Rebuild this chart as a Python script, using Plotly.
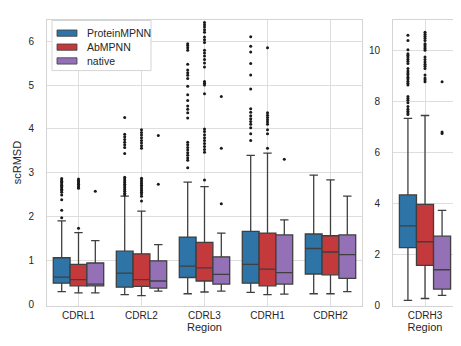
import plotly.graph_objects as go

# ---------------- data ----------------
regions_left = ["CDRL1", "CDRL2", "CDRL3", "CDRH1", "CDRH2"]
regions_right = ["CDRH3"]
series_names = ["ProteinMPNN", "AbMPNN", "native"]
series_colors = ["#2f74a6", "#c4393b", "#9470b6"]

# box statistics, left panel (CDRL1..CDRH2)
pm_q1 = [0.49, 0.40, 0.62, 0.49, 0.70]
pm_med = [0.63, 0.72, 0.88, 0.92, 1.28]
pm_q3 = [1.07, 1.22, 1.54, 1.67, 1.61]
pm_lo = [0.30, 0.23, 0.25, 0.28, 0.25]
pm_hi = [1.91, 2.47, 2.79, 3.40, 2.95]

ab_q1 = [0.43, 0.42, 0.54, 0.43, 0.68]
ab_med = [0.57, 0.57, 0.84, 0.81, 1.20]
ab_q3 = [0.92, 1.16, 1.42, 1.63, 1.57]
ab_lo = [0.27, 0.21, 0.29, 0.23, 0.25]
ab_hi = [1.64, 2.13, 2.69, 3.45, 2.84]

nat_q1 = [0.43, 0.38, 0.47, 0.47, 0.60]
nat_med = [0.47, 0.54, 0.69, 0.73, 1.14]
nat_q3 = [0.95, 1.00, 1.09, 1.59, 1.59]
nat_lo = [0.27, 0.31, 0.31, 0.24, 0.30]
nat_hi = [1.46, 1.37, 1.63, 1.93, 2.47]

# box statistics, right panel (CDRH3): ProteinMPNN, AbMPNN, native
h3_q1 = [2.26, 1.56, 0.63]
h3_med = [3.11, 2.49, 1.39]
h3_q3 = [4.33, 3.96, 2.71]
h3_lo = [0.19, 0.26, 0.38]
h3_hi = [7.34, 7.45, 3.72]

# outliers
pm_outliers = {
    "CDRL1": [1.98, 2.15, 2.39, 2.50, 2.56, 2.60, 2.63, 2.66, 2.69, 2.72, 2.75, 2.78, 2.81, 2.84, 2.87],
    "CDRL2": [2.50, 2.54, 2.58, 2.62, 2.66, 2.70, 2.74, 2.78, 2.82, 2.86, 2.90,
              3.44, 3.58, 3.64, 3.70, 3.76, 3.82, 3.88, 4.26],
    "CDRL3": [3.12, 3.29, 3.34, 3.40, 3.46, 3.52, 3.58, 3.64, 3.70, 4.25, 4.37, 4.45, 4.52,
              4.65, 4.78, 4.97, 5.15, 5.22, 5.28, 5.34, 5.47, 5.79, 5.85, 5.90, 5.94],
    "CDRH1": [3.74, 3.89, 4.03, 4.11, 4.17, 4.23, 4.30, 4.38, 4.46, 4.91, 5.23, 5.49, 5.75, 5.88, 6.10],
    "CDRH2": [],
    "CDRH3": [7.49, 7.55, 7.62, 7.70, 7.80, 7.95, 8.05, 8.12, 8.20, 8.65, 8.72, 8.80, 8.88, 8.95,
              9.05, 9.12, 9.20, 9.30, 9.49, 9.58, 9.66, 9.75, 9.82, 9.88, 10.03, 10.40, 10.60],
}
ab_outliers = {
    "CDRL1": [1.74, 2.65, 2.68, 2.71, 2.74, 2.77, 2.80, 2.83, 2.86],
    "CDRL2": [2.36, 2.47, 2.52, 2.56, 2.60, 2.64, 2.68, 2.72, 2.76, 2.80, 2.84, 2.88,
              3.56, 3.62, 3.68, 3.74, 3.80, 3.86, 3.92, 3.98],
    "CDRL3": [2.84, 3.47, 3.53, 3.60, 3.67, 3.74, 3.80, 3.87, 3.94, 4.00, 4.80, 5.00, 5.04, 5.08,
              5.41, 5.50, 5.58, 5.66, 5.73, 5.79, 5.97, 6.03, 6.09, 6.20, 6.26, 6.32, 6.37, 6.42],
    "CDRH1": [3.56, 3.89, 3.98, 4.11, 4.16, 4.21, 4.26, 4.31, 4.37, 5.85],
    "CDRH2": [],
    "CDRH3": [8.78, 8.85, 8.92, 9.04, 9.30, 9.38, 9.46, 9.55, 9.65, 9.75, 10.01, 10.08, 10.15,
              10.22, 10.27, 10.40, 10.48, 10.56, 10.64, 10.72],
}
nat_outliers = {
    "CDRL1": [2.58],
    "CDRL2": [2.74, 3.85],
    "CDRL3": [2.30, 3.56, 4.74],
    "CDRH1": [3.31],
    "CDRH2": [],
    "CDRH3": [6.74, 6.80, 8.78],
}

left_ticks = [0, 1, 2, 3, 4, 5, 6]
right_ticks = [0, 2, 4, 6, 8, 10]

# ---------------- figure ----------------
W, H = 461, 346
FONT = "Liberation Sans, Arial, sans-serif"
TXT = "#262626"
EDGE = "#3f3f3f"
GRID = "#dedede"
FRAME = "#d4d4d4"

left_stats = [
    (pm_q1, pm_med, pm_q3, pm_lo, pm_hi),
    (ab_q1, ab_med, ab_q3, ab_lo, ab_hi),
    (nat_q1, nat_med, nat_q3, nat_lo, nat_hi),
]
outlier_sets = [pm_outliers, ab_outliers, nat_outliers]

fig = go.Figure()

for i, name in enumerate(series_names):
    q1, med, q3, lo, hi = left_stats[i]
    fig.add_trace(go.Box(
        name=name, x=regions_left, q1=q1, median=med, q3=q3,
        lowerfence=lo, upperfence=hi, boxpoints=False,
        fillcolor=series_colors[i], line=dict(color=EDGE, width=1.3),
        whiskerwidth=0.5, offsetgroup=name, legendgroup=name,
        xaxis="x", yaxis="y", showlegend=False,
    ))
    fig.add_trace(go.Box(
        name=name, x=regions_right, q1=[h3_q1[i]], median=[h3_med[i]], q3=[h3_q3[i]],
        lowerfence=[h3_lo[i]], upperfence=[h3_hi[i]], boxpoints=False,
        fillcolor=series_colors[i], line=dict(color=EDGE, width=1.3),
        whiskerwidth=0.5, offsetgroup=name, legendgroup=name,
        xaxis="x2", yaxis="y2", showlegend=False,
    ))

for i, name in enumerate(series_names):
    outs = outlier_sets[i]
    xl, yl = [], []
    for r in regions_left:
        xl += [r] * len(outs[r])
        yl += outs[r]
    xr, yr = [], []
    for r in regions_right:
        xr += [r] * len(outs[r])
        yr += outs[r]
    for xs, ys, xa, ya in [(xl, yl, "x", "y"), (xr, yr, "x2", "y2")]:
        fig.add_trace(go.Scatter(
            x=xs, y=ys, mode="markers", offsetgroup=name, legendgroup=name,
            marker=dict(color="#1a1a1a", size=3, line=dict(width=0)),
            xaxis=xa, yaxis=ya, showlegend=False, hoverinfo="skip",
        ))

y0, y1 = (H - 302) / H, (H - 11.7) / H

axis_common = dict(
    showline=True, linecolor=FRAME, linewidth=1, mirror=True,
    showgrid=True, gridcolor=GRID, gridwidth=1, zeroline=False,
    tickfont=dict(family=FONT, size=10, color=TXT),
    title_font=dict(family=FONT, size=11, color=TXT),
)

# ---- hand-drawn legend (matplotlib style: wide patches, compact rows) ----
shapes = [dict(type="rect", xref="paper", yref="paper",
               x0=44 / W, x1=143 / W, y0=(H - 63.5) / H, y1=(H - 12.7) / H,
               fillcolor="white", line=dict(color=FRAME, width=1), layer="above")]
annotations = []
legend_rows = [25.5, 39.7, 53.7]
for i, name in enumerate(series_names):
    yc = legend_rows[i]
    shapes.append(dict(type="rect", xref="paper", yref="paper",
                       x0=49 / W, x1=69 / W, y0=(H - yc - 3.2) / H, y1=(H - yc + 3.2) / H,
                       fillcolor=series_colors[i], line=dict(color=EDGE, width=0.8),
                       layer="above"))
    annotations.append(dict(xref="paper", yref="paper", x=77 / W, y=(H - yc) / H,
                            xanchor="left", yanchor="middle", text=name, showarrow=False,
                            font=dict(family=FONT, size=10.5, color=TXT)))

fig.update_layout(
    width=W, height=H,
    margin=dict(l=0, r=0, t=0, b=0),
    paper_bgcolor="white", plot_bgcolor="white",
    boxmode="group", boxgap=0.2, boxgroupgap=0.0,
    scattermode="group", scattergap=0.2,
    font=dict(family=FONT, size=10, color=TXT),
    xaxis=dict(domain=[39 / W, 354 / W], type="category", range=[-0.5, 4.5],
               categoryorder="array", categoryarray=regions_left,
               title=dict(text="Region", standoff=2), ticklabelstandoff=0,
               anchor="y", **axis_common),
    yaxis=dict(domain=[y0, y1], range=[-0.02, 6.49], tickvals=left_ticks,
               title=dict(text="scRMSD", standoff=4), ticklabelstandoff=10,
               anchor="x", **axis_common),
    xaxis2=dict(domain=[385 / W, 449 / W], type="category", range=[-0.5, 0.5],
                categoryorder="array", categoryarray=regions_right,
                title=dict(text="Region", standoff=2), ticklabelstandoff=0,
                anchor="y2", **axis_common),
    yaxis2=dict(domain=[y0, y1], range=[-0.02, 11.22], tickvals=right_ticks,
                ticklabelstandoff=10, anchor="x2", **axis_common),
    shapes=shapes,
    annotations=annotations,
    showlegend=False,
)

fig.write_html("out.html")
